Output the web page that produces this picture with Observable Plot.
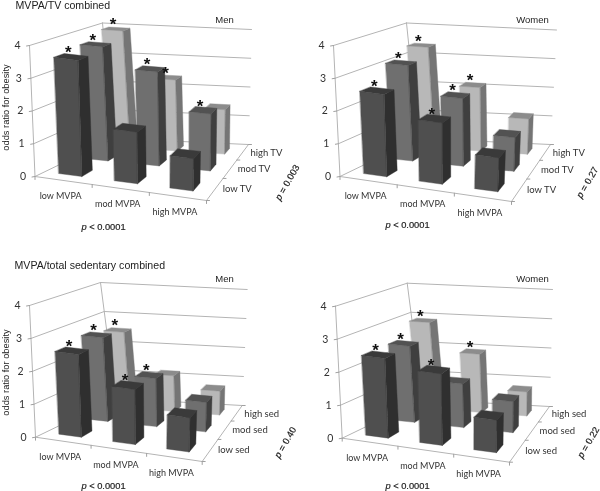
<!DOCTYPE html>
<html><head><meta charset="utf-8">
<script src="https://cdn.jsdelivr.net/npm/d3@7"></script>
<script src="https://cdn.jsdelivr.net/npm/@observablehq/plot@0.6"></script>
<style>html,body{margin:0;padding:0;background:#fff}svg{display:block;filter:blur(0.35px)}</style>
</head><body><div id="chart"></div>
<script>
const mvpaLevels = ["low MVPA", "mod MVPA", "high MVPA"];
const tvLevels = ["low TV", "mod TV", "high TV"];
const sedLevels = ["low sed", "mod sed", "high sed"];
const oddsTicks = [0, 1, 2, 3, 4];
// rows: low / mod / high of second factor; columns: low / mod / high MVPA
const menTV = [[3.6, 1.6, 1.0], [3.7, 3.05, 1.85], [3.95, 2.4, 1.5]];
const womenTV = [[2.55, 1.9, 1.05], [3.1, 2.2, 1.1], [3.4, 2.15, 1.2]];
const menSed = [[2.55, 1.7, 1.05], [2.7, 1.55, 0.95], [2.55, 1.2, 0.8]];
const womenSed = [[2.45, 2.2, 1.0], [2.45, 1.4, 1.0], [2.9, 1.95, 0.8]];
const menTVStars = [[1, 0, 0], [1, 1, 1], [1, 1, 0]];
const womenTVStars = [[1, 1, 0], [1, 1, 0], [1, 1, 0]];
const menSedStars = [[1, 1, 0], [1, 1, 0], [1, 0, 0]];
const womenSedStars = [[1, 1, 0], [1, 0, 0], [1, 1, 0]];
const faceColors = [
  {front: "#4f4f4f", side: "#2f2f2f", top: "#3a3a3a"},
  {front: "#6f6f6f", side: "#3f3f3f", top: "#525252"},
  {front: "#b8b8b8", side: "#757575", top: "#8c8c8c"}
];

const panels = [
  {values: menTV, stars: menTVStars, rows: tvLevels, sex: "Men", p1: "p < 0.0001", p2: "p = 0.003",
   flb: [34.5, 176], frb: [206, 200], blb: [113, 138], brb: [248, 144], flt: [29, 45], blt: [102, 22.5], brt: [251, 29],
   sexAt: [224, 19], p1At: [103, 227], p2At: [287, 182]},
  {values: womenTV, stars: womenTVStars, rows: tvLevels, sex: "Women", p1: "p < 0.0001", p2: "p = 0.27",
   flb: [339.5, 176], frb: [511, 201], blb: [418, 138], brb: [550, 144], flt: [333, 45], blt: [406, 22.5], brt: [556, 29.5],
   sexAt: [532, 19], p1At: [407, 225], p2At: [587, 182]},
  {values: menSed, stars: menSedStars, rows: sedLevels, sex: "Men", p1: "p < 0.0001", p2: "p = 0.40",
   flb: [35, 436.7], frb: [201.7, 461], blb: [115, 398], brb: [241.7, 405], flt: [29, 305], blt: [100, 282], brt: [246.7, 289],
   sexAt: [224, 278], p1At: [103, 486], p2At: [285, 442]},
  {values: womenSed, stars: womenSedStars, rows: sedLevels, sex: "Women", p1: "p < 0.0001", p2: "p = 0.22",
   flb: [341.7, 437.7], frb: [509, 461.7], blb: [421.7, 399], brb: [549, 406], flt: [335, 305.7], blt: [406.7, 282.7], brt: [552, 289],
   sexAt: [532, 278], p1At: [407, 486], p2At: [588, 442]}
];

const DEPTH = 1.3;
const squeeze = v => DEPTH * v / (1 + (DEPTH - 1) * v);
const lerp = (a, b, t) => [a[0] + (b[0] - a[0]) * t, a[1] + (b[1] - a[1]) * t];
function projector(P) {
  const frt = [P.frb[0] + (P.brt[0] - P.brb[0]), P.frb[1] + (P.flt[1] - P.flb[1])];
  return (u, v, val) => {
    const d = squeeze(v);
    const b = lerp(lerp(P.flb, P.frb, u), lerp(P.blb, P.brb, u), d);
    const t = lerp(lerp(P.flt, frt, u), lerp(P.blt, P.brt, u), d);
    return lerp(b, t, val / 4);
  };
}

const U0 = 0.083, U1 = 0.222, V0 = 0.1, V1 = 0.225;
const gridSegs = [], tickSegs = [], polys = [], stars = [], labelsMid = [], labelsStart = [], labelsEnd = [];
let id = 0;
function seg(list, a, b) { const k = id++; list.push({k, x: a[0], y: a[1]}, {k, x: b[0], y: b[1]}); }
function poly(pts, fill) { const k = id++; for (const p of pts) polys.push({k, x: p[0], y: p[1], fill}); }

panels.forEach(P => {
  const pr = projector(P);
  for (const t of oddsTicks) {
    seg(gridSegs, pr(0, 0, t), pr(0, 1, t));
    seg(gridSegs, pr(0, 1, t), pr(1, 1, t));
    const a = pr(0, 0, t);
    seg(tickSegs, a, [a[0] - 3, a[1] + 0.5]);
    labelsEnd.push({x: a[0] - 12, y: a[1], t: String(t)});
  }
  seg(gridSegs, pr(0, 0, 0), pr(0, 0, 4));
  seg(gridSegs, pr(0, 1, 0), pr(0, 1, 4));
  seg(gridSegs, pr(0, 0, 0), pr(1, 0, 0));
  seg(gridSegs, pr(1, 0, 0), pr(1, 1, 0));
  for (let i = 0; i <= 3; i++) { const a = pr(i / 3, 0, 0); seg(tickSegs, a, [a[0], a[1] + 3]); }
  for (let j = 0; j <= 3; j++) { const a = pr(1, j / 3, 0); seg(tickSegs, a, [a[0] + 3, a[1]]); }
  mvpaLevels.forEach((name, i) => {
    const a = pr((i + 0.5) / 3, 0, 0);
    labelsMid.push({x: a[0] - 3, y: a[1] + 15.5, t: name});
  });
  P.rows.forEach((name, j) => {
    const a = pr(1, (j + 0.5) / 3, 0);
    labelsStart.push({x: a[0] + 7.5, y: a[1] + 0.5, t: name});
  });
  for (let j = 2; j >= 0; j--) for (let i = 0; i < 3; i++) {
    const val = P.values[j][i], c = faceColors[j];
    const u0 = i / 3 + U0, u1 = i / 3 + U1, v0 = j / 3 + V0, v1 = j / 3 + V1;
    poly([pr(u0, v0, 0), pr(u1, v0, 0), pr(u1, v0, val), pr(u0, v0, val)], c.front);
    poly([pr(u1, v0, 0), pr(u1, v1, 0), pr(u1, v1, val), pr(u1, v0, val)], c.side);
    poly([pr(u0, v0, val), pr(u1, v0, val), pr(u1, v1, val), pr(u0, v1, val)], c.top);
    if (P.stars[j][i]) {
      const s = pr((u0 + u1) / 2, (v0 + v1) / 2, val);
      stars.push({x: s[0] - 3, y: s[1] - 4, t: "*"});
    }
  }
});

const titles = [
  {x: 15, y: 5, t: "MVPA/TV combined"},
  {x: 14, y: 265, t: "MVPA/total sedentary combined"}
];
const yTitles = [
  {x: 6, y: 107, t: "odds ratio for obesity"},
  {x: 6, y: 372, t: "odds ratio for obesity"}
];
const sexLabels = panels.map(P => ({x: P.sexAt[0], y: P.sexAt[1], t: P.sex}));
const pMain = panels.map(P => ({x: P.p1At[0], y: P.p1At[1], t: P.p1}));
const pSide = panels.map(P => ({x: P.p2At[0], y: P.p2At[1], t: P.p2}));

const xy = {x: "x", y: "y", text: "t"};
const tickFont = "Lato, 'Open Sans', sans-serif", headFont = "'Liberation Sans', Arial, sans-serif";
const chart = Plot.plot({
  width: 600, height: 491, margin: 0,
  x: {domain: [0, 600], range: [0, 600], axis: null},
  y: {domain: [0, 491], range: [0, 491], axis: null},
  color: {type: "identity"},
  marks: [
    Plot.line(gridSegs, {x: "x", y: "y", z: "k", stroke: "#b4b4b4", strokeWidth: 1}),
    Plot.line(tickSegs, {x: "x", y: "y", z: "k", stroke: "#a0a0a0", strokeWidth: 1}),
    Plot.line(polys, {x: "x", y: "y", z: "k", fill: "fill", stroke: "fill", strokeWidth: 0.4, curve: "linear-closed"}),
    Plot.text(stars, {...xy, fontSize: 17, fontWeight: "bold", fill: "#111", fontFamily: headFont}),
    Plot.text(labelsEnd, {...xy, fontSize: 10.5, fill: "#333", fontFamily: tickFont}),
    Plot.text(labelsMid, {...xy, fontSize: 9, fill: "#333", fontFamily: tickFont}),
    Plot.text(labelsStart, {...xy, fontSize: 9.5, fill: "#333", textAnchor: "start", fontFamily: tickFont}),
    Plot.text(titles, {...xy, fontSize: 10.6, fill: "#222", textAnchor: "start", fontFamily: headFont}),
    Plot.text(yTitles, {...xy, fontSize: 9.3, fill: "#222", rotate: -90, fontFamily: headFont}),
    Plot.text(sexLabels, {...xy, fontSize: 9.5, fill: "#222", fontFamily: headFont}),
    Plot.text(pMain, {...xy, fontSize: 9.3, fill: "#222", stroke: "#222", strokeWidth: 0.2, fontFamily: headFont}),
    Plot.text(pSide, {...xy, fontSize: 9.3, fill: "#222", stroke: "#222", strokeWidth: 0.2, rotate: -60, fontFamily: headFont})
  ]
});
chart.querySelectorAll("text").forEach(el => {
  const s = el.textContent;
  if (/^p [<=]/.test(s)) {
    const holder = el.querySelector("tspan") || el;
    holder.textContent = "";
    const it = document.createElementNS("http://www.w3.org/2000/svg", "tspan");
    it.setAttribute("font-style", "italic");
    it.textContent = "p";
    holder.appendChild(it);
    holder.appendChild(document.createTextNode(s.slice(1)));
  }
});
document.getElementById("chart").appendChild(chart);
</script></body></html>
